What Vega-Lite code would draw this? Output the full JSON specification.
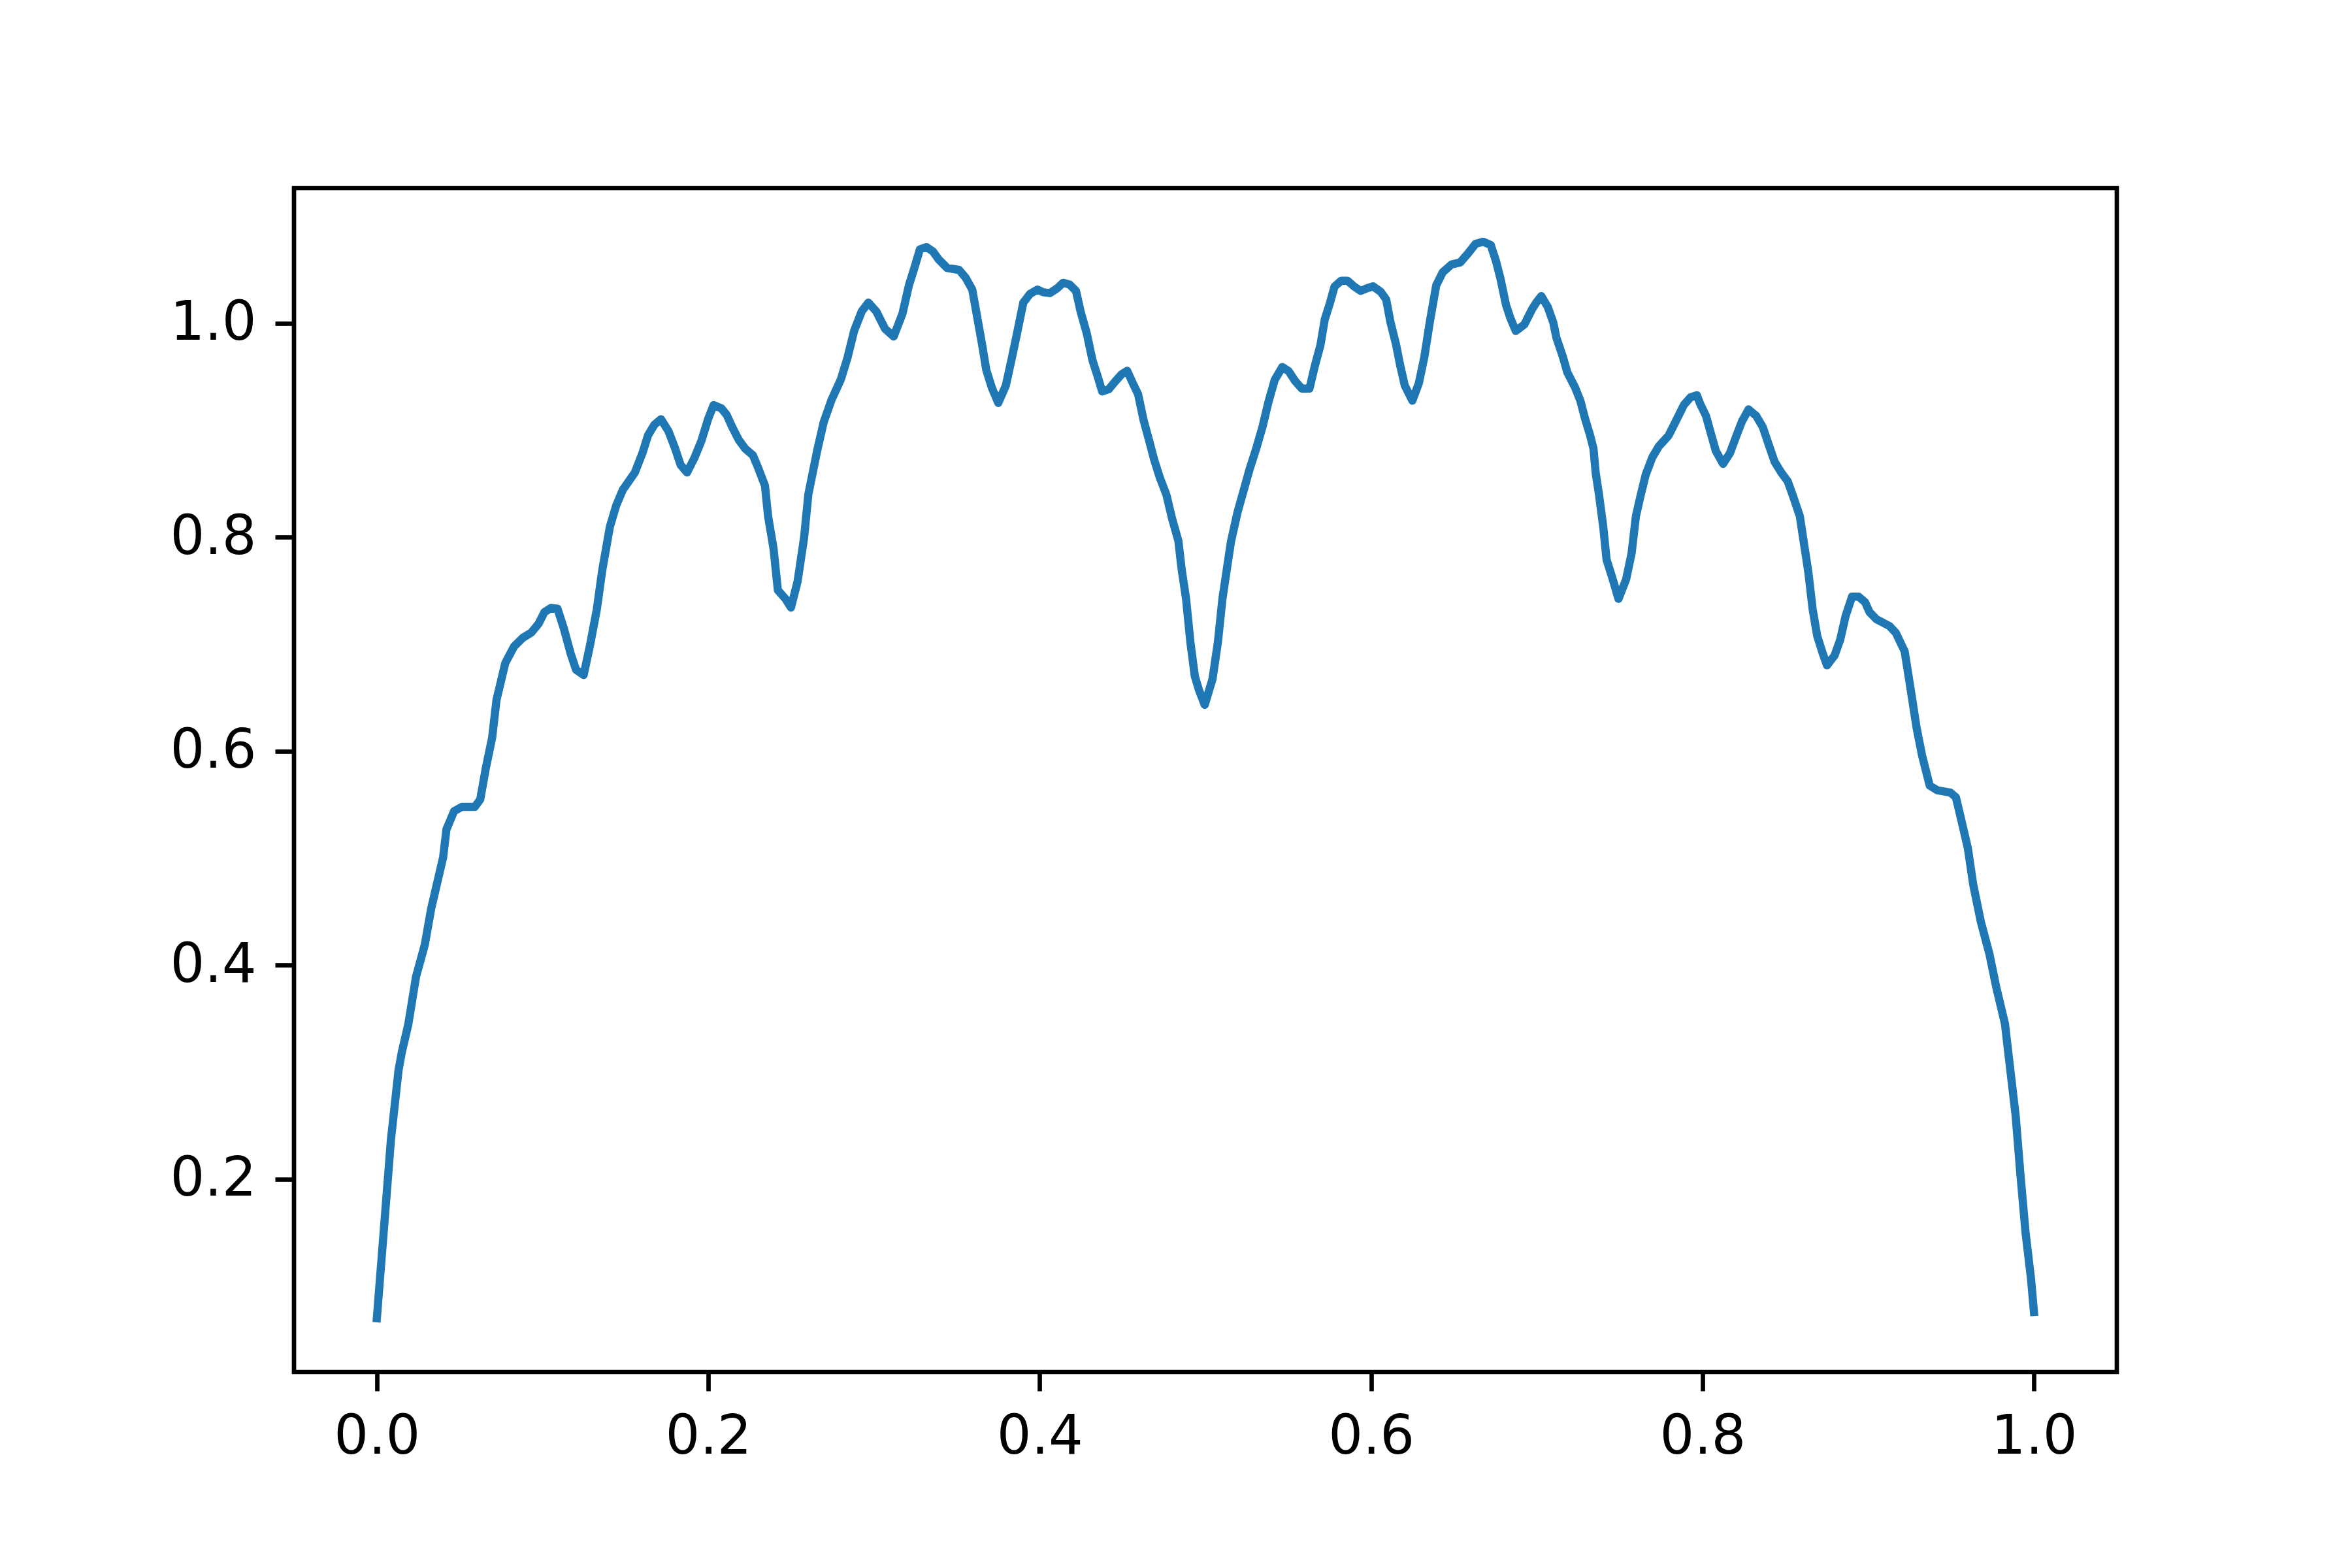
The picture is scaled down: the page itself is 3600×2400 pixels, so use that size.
{
  "$schema": "https://vega.github.io/schema/vega-lite/v6.json",
  "width": 2790,
  "height": 1812,
  "autosize": "none",
  "padding": {"left": 450, "top": 288, "right": 360, "bottom": 300},
  "background": "white",
  "config": {
    "view": {"stroke": "black", "strokeWidth": 6.7},
    "axis": {
      "domain": false,
      "grid": false,
      "ticks": true,
      "tickColor": "black",
      "tickWidth": 6.7,
      "tickSize": 29,
      "labelFont": "DejaVu Sans",
      "labelFontSize": 83,
      "labelColor": "black",
      "labelPadding": 29,
      "title": null
    }
  },
  "data": {
    "values": [
      {"x": 0.0, "y": 0.07}, {"x": 0.0052, "y": 0.172}, {"x": 0.0085, "y": 0.237}, {"x": 0.0131, "y": 0.302},
      {"x": 0.0151, "y": 0.319}, {"x": 0.019, "y": 0.345}, {"x": 0.0236, "y": 0.389}, {"x": 0.0289, "y": 0.419},
      {"x": 0.0328, "y": 0.453}, {"x": 0.04, "y": 0.501}, {"x": 0.042, "y": 0.527}, {"x": 0.0466, "y": 0.544},
      {"x": 0.0512, "y": 0.548}, {"x": 0.0591, "y": 0.548}, {"x": 0.0624, "y": 0.555}, {"x": 0.0656, "y": 0.583},
      {"x": 0.0696, "y": 0.613}, {"x": 0.0722, "y": 0.648}, {"x": 0.0775, "y": 0.6825}, {"x": 0.0828, "y": 0.698},
      {"x": 0.088, "y": 0.706}, {"x": 0.0932, "y": 0.711}, {"x": 0.0975, "y": 0.719}, {"x": 0.1011, "y": 0.73},
      {"x": 0.1051, "y": 0.734}, {"x": 0.109, "y": 0.7333}, {"x": 0.113, "y": 0.714}, {"x": 0.1169, "y": 0.6916},
      {"x": 0.1202, "y": 0.6763}, {"x": 0.1248, "y": 0.6713}, {"x": 0.1287, "y": 0.6997}, {"x": 0.1327, "y": 0.7323},
      {"x": 0.136, "y": 0.769}, {"x": 0.1406, "y": 0.8097}, {"x": 0.1445, "y": 0.83}, {"x": 0.1484, "y": 0.8443},
      {"x": 0.1557, "y": 0.8606}, {"x": 0.1603, "y": 0.8789}, {"x": 0.1636, "y": 0.8952}, {"x": 0.1675, "y": 0.9053},
      {"x": 0.1715, "y": 0.9104}, {"x": 0.176, "y": 0.8992}, {"x": 0.18, "y": 0.883}, {"x": 0.1833, "y": 0.8677},
      {"x": 0.1872, "y": 0.8606}, {"x": 0.1918, "y": 0.8748}, {"x": 0.1958, "y": 0.89}, {"x": 0.2, "y": 0.911},
      {"x": 0.2032, "y": 0.9237}, {"x": 0.2079, "y": 0.9206}, {"x": 0.2111, "y": 0.9145}, {"x": 0.2144, "y": 0.9033},
      {"x": 0.2184, "y": 0.8911}, {"x": 0.2223, "y": 0.8829}, {"x": 0.2269, "y": 0.8768}, {"x": 0.2302, "y": 0.8646},
      {"x": 0.2342, "y": 0.8484}, {"x": 0.2361, "y": 0.8198}, {"x": 0.2394, "y": 0.7893}, {"x": 0.242, "y": 0.7506},
      {"x": 0.2466, "y": 0.7425}, {"x": 0.2499, "y": 0.7344}, {"x": 0.2539, "y": 0.7588}, {"x": 0.2578, "y": 0.7995},
      {"x": 0.2604, "y": 0.8402}, {"x": 0.2657, "y": 0.8809}, {"x": 0.2696, "y": 0.9074}, {"x": 0.2742, "y": 0.9278},
      {"x": 0.2801, "y": 0.948}, {"x": 0.2841, "y": 0.9684}, {"x": 0.288, "y": 0.9929}, {"x": 0.2926, "y": 1.0112},
      {"x": 0.2966, "y": 1.0194}, {"x": 0.3014, "y": 1.0112}, {"x": 0.3067, "y": 0.9949}, {"x": 0.3119, "y": 0.9878},
      {"x": 0.3172, "y": 1.0092}, {"x": 0.3211, "y": 1.0356}, {"x": 0.3244, "y": 1.0519}, {"x": 0.3277, "y": 1.0692},
      {"x": 0.3317, "y": 1.0713}, {"x": 0.3356, "y": 1.0672}, {"x": 0.3389, "y": 1.06}, {"x": 0.3441, "y": 1.0519},
      {"x": 0.3514, "y": 1.0499}, {"x": 0.3553, "y": 1.0427}, {"x": 0.3593, "y": 1.0316}, {"x": 0.3619, "y": 1.0092},
      {"x": 0.3652, "y": 0.9806}, {"x": 0.3678, "y": 0.9562}, {"x": 0.3711, "y": 0.94}, {"x": 0.375, "y": 0.9257},
      {"x": 0.3796, "y": 0.942}, {"x": 0.3836, "y": 0.9705}, {"x": 0.3869, "y": 0.9949}, {"x": 0.3901, "y": 1.0194},
      {"x": 0.3941, "y": 1.0275}, {"x": 0.3987, "y": 1.0316}, {"x": 0.4022, "y": 1.0291}, {"x": 0.4062, "y": 1.0283},
      {"x": 0.4108, "y": 1.0331}, {"x": 0.4141, "y": 1.0379}, {"x": 0.418, "y": 1.0363}, {"x": 0.4219, "y": 1.0304},
      {"x": 0.4246, "y": 1.0116}, {"x": 0.4285, "y": 0.9901}, {"x": 0.4318, "y": 0.9659}, {"x": 0.4351, "y": 0.9498},
      {"x": 0.4377, "y": 0.9364}, {"x": 0.4417, "y": 0.9385}, {"x": 0.4456, "y": 0.9458}, {"x": 0.4495, "y": 0.9525},
      {"x": 0.4528, "y": 0.9557}, {"x": 0.4561, "y": 0.9444}, {"x": 0.4594, "y": 0.9337}, {"x": 0.4627, "y": 0.9095},
      {"x": 0.466, "y": 0.8907}, {"x": 0.4692, "y": 0.8719}, {"x": 0.4725, "y": 0.8558}, {"x": 0.4765, "y": 0.8396},
      {"x": 0.4798, "y": 0.8181}, {"x": 0.4837, "y": 0.7966}, {"x": 0.4857, "y": 0.7698}, {"x": 0.4883, "y": 0.7429},
      {"x": 0.4909, "y": 0.7026}, {"x": 0.4936, "y": 0.6703}, {"x": 0.4962, "y": 0.6569}, {"x": 0.4996, "y": 0.6434},
      {"x": 0.5043, "y": 0.6676}, {"x": 0.5076, "y": 0.7026}, {"x": 0.5103, "y": 0.7429}, {"x": 0.5129, "y": 0.7698},
      {"x": 0.5155, "y": 0.7966}, {"x": 0.5194, "y": 0.8235}, {"x": 0.5228, "y": 0.8423}, {"x": 0.5267, "y": 0.8638},
      {"x": 0.5306, "y": 0.8826}, {"x": 0.5346, "y": 0.9041}, {"x": 0.5379, "y": 0.9256}, {"x": 0.5418, "y": 0.9471},
      {"x": 0.5464, "y": 0.9592}, {"x": 0.5503, "y": 0.9552}, {"x": 0.5543, "y": 0.9458}, {"x": 0.5582, "y": 0.939},
      {"x": 0.5628, "y": 0.939}, {"x": 0.5661, "y": 0.9606}, {"x": 0.5694, "y": 0.9794}, {"x": 0.572, "y": 1.0035},
      {"x": 0.5753, "y": 1.0197}, {"x": 0.5779, "y": 1.0344}, {"x": 0.5819, "y": 1.0398}, {"x": 0.5858, "y": 1.0398},
      {"x": 0.5898, "y": 1.0344}, {"x": 0.5937, "y": 1.0304}, {"x": 0.5975, "y": 1.0328}, {"x": 0.6012, "y": 1.0346},
      {"x": 0.6058, "y": 1.0295}, {"x": 0.6091, "y": 1.0224}, {"x": 0.6117, "y": 1.001}, {"x": 0.615, "y": 0.9806},
      {"x": 0.6176, "y": 0.9603}, {"x": 0.6203, "y": 0.942}, {"x": 0.6249, "y": 0.9278}, {"x": 0.6288, "y": 0.944},
      {"x": 0.6321, "y": 0.9684}, {"x": 0.6354, "y": 1.001}, {"x": 0.6393, "y": 1.0356}, {"x": 0.6432, "y": 1.0478},
      {"x": 0.6485, "y": 1.055}, {"x": 0.6538, "y": 1.057}, {"x": 0.6584, "y": 1.0652}, {"x": 0.663, "y": 1.0743},
      {"x": 0.6676, "y": 1.0763}, {"x": 0.6722, "y": 1.0733}, {"x": 0.6754, "y": 1.058}, {"x": 0.6781, "y": 1.0417},
      {"x": 0.6814, "y": 1.0173}, {"x": 0.684, "y": 1.0051}, {"x": 0.6873, "y": 0.9929}, {"x": 0.6925, "y": 0.999},
      {"x": 0.6971, "y": 1.0132}, {"x": 0.6998, "y": 1.0198}, {"x": 0.7027, "y": 1.0255}, {"x": 0.7066, "y": 1.0153},
      {"x": 0.7099, "y": 1.001}, {"x": 0.7118, "y": 0.9867}, {"x": 0.7158, "y": 0.9684}, {"x": 0.7184, "y": 0.9542},
      {"x": 0.7231, "y": 0.94}, {"x": 0.7263, "y": 0.9277}, {"x": 0.729, "y": 0.9115}, {"x": 0.7322, "y": 0.8951},
      {"x": 0.7342, "y": 0.8829}, {"x": 0.7355, "y": 0.8606}, {"x": 0.7375, "y": 0.8402}, {"x": 0.7401, "y": 0.8097},
      {"x": 0.7421, "y": 0.7791}, {"x": 0.7454, "y": 0.7629}, {"x": 0.7493, "y": 0.7425}, {"x": 0.7539, "y": 0.7608},
      {"x": 0.7572, "y": 0.7852}, {"x": 0.7598, "y": 0.8198}, {"x": 0.7625, "y": 0.8382}, {"x": 0.7657, "y": 0.8585},
      {"x": 0.7697, "y": 0.8748}, {"x": 0.7736, "y": 0.885}, {"x": 0.7795, "y": 0.8951}, {"x": 0.7835, "y": 0.9074},
      {"x": 0.7887, "y": 0.9237}, {"x": 0.7927, "y": 0.9308}, {"x": 0.7966, "y": 0.9328}, {"x": 0.7985, "y": 0.925},
      {"x": 0.8021, "y": 0.9135}, {"x": 0.8054, "y": 0.8952}, {"x": 0.808, "y": 0.8809}, {"x": 0.8124, "y": 0.8687},
      {"x": 0.8166, "y": 0.8789}, {"x": 0.8205, "y": 0.8952}, {"x": 0.8238, "y": 0.9084}, {"x": 0.8278, "y": 0.9196},
      {"x": 0.8324, "y": 0.9135}, {"x": 0.8363, "y": 0.9033}, {"x": 0.8403, "y": 0.885}, {"x": 0.8435, "y": 0.8707},
      {"x": 0.8475, "y": 0.8606}, {"x": 0.8514, "y": 0.8524}, {"x": 0.8547, "y": 0.8382}, {"x": 0.8587, "y": 0.8198},
      {"x": 0.8613, "y": 0.7934}, {"x": 0.8639, "y": 0.7669}, {"x": 0.8665, "y": 0.7323}, {"x": 0.8692, "y": 0.7079},
      {"x": 0.8725, "y": 0.6916}, {"x": 0.8751, "y": 0.6804}, {"x": 0.8797, "y": 0.6896}, {"x": 0.883, "y": 0.7038},
      {"x": 0.8863, "y": 0.7262}, {"x": 0.8902, "y": 0.7445}, {"x": 0.8942, "y": 0.7445}, {"x": 0.8981, "y": 0.7394},
      {"x": 0.9007, "y": 0.7303}, {"x": 0.9049, "y": 0.7235}, {"x": 0.9128, "y": 0.7171}, {"x": 0.9167, "y": 0.7106},
      {"x": 0.922, "y": 0.6933}, {"x": 0.9253, "y": 0.6609}, {"x": 0.9292, "y": 0.6219}, {"x": 0.9325, "y": 0.596},
      {"x": 0.9371, "y": 0.5679}, {"x": 0.9417, "y": 0.5636}, {"x": 0.9496, "y": 0.5614}, {"x": 0.9529, "y": 0.5571},
      {"x": 0.9562, "y": 0.5355}, {"x": 0.9601, "y": 0.5096}, {"x": 0.9634, "y": 0.475}, {"x": 0.968, "y": 0.4404},
      {"x": 0.9732, "y": 0.4101}, {"x": 0.9772, "y": 0.3799}, {"x": 0.9825, "y": 0.3453}, {"x": 0.9851, "y": 0.3107},
      {"x": 0.989, "y": 0.2588}, {"x": 0.9917, "y": 0.207}, {"x": 0.9949, "y": 0.1507}, {"x": 0.9982, "y": 0.1075},
      {"x": 1.0, "y": 0.076}
    ]
  },
  "mark": {"type": "line", "color": "#1f77b4", "strokeWidth": 12.5, "strokeCap": "square", "strokeJoin": "round", "clip": true},
  "encoding": {
    "x": {
      "field": "x", "type": "quantitative",
      "scale": {"domain": [-0.05, 1.05], "nice": false, "zero": false},
      "axis": {"values": [0, 0.2, 0.4, 0.6, 0.8, 1.0], "format": ".1f"}
    },
    "y": {
      "field": "y", "type": "quantitative",
      "scale": {"domain": [0.0198, 1.1264], "nice": false, "zero": false},
      "axis": {"values": [0.2, 0.4, 0.6, 0.8, 1.0], "format": ".1f"}
    }
  }
}
